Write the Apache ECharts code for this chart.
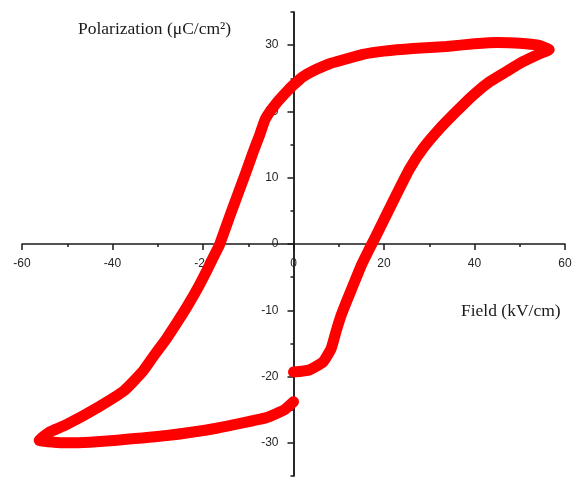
<!DOCTYPE html>
<html>
<head>
<meta charset="utf-8">
<script src="https://cdn.jsdelivr.net/npm/echarts@6/dist/echarts.min.js"></script>
<style>
  html, body { margin: 0; padding: 0; background: #fff; }
  #chart { width: 576px; height: 478px; }
</style>
</head>
<body>
<div id="chart"></div>
<script>
// Hysteresis loop: field (kV/cm) vs polarization (uC/cm^2), traced in measurement order
const field = [
  0, 3.5, 6.5, 8.3, 9.4, 10.5, 12, 13.5, 15, 16.8, 18, 22.7, 25.7, 28.6, 32.3, 36, 39.6, 43.4, 47, 50.7, 54.4, 56.5,
  54, 50, 45, 40, 33.8, 26.4, 20, 15.3, 11.6, 8, 4.3, 2, 0, -1.2,
  -3.6, -6.2, -7.5, -8.9, -10.2, -11.6, -12.9, -14.3, -15.6, -16.4, -17.5, -19.3, -21.2, -23.4, -25.6, -28.1, -30.8, -33.3,
  -37.4, -42.9, -50.3, -54, -56.2,
  -53, -50, -45, -39, -28, -17, -6, -2, 0
];
const polarization = [
  -19.3, -19.0, -17.8, -15.8, -13.2, -10.8, -8.2, -5.7, -3.2, -0.7, 0.9, 7.4, 11.4, 14.4, 17.4, 20, 22.4, 24.5, 26, 27.5, 28.7, 29.3,
  30.0, 30.3, 30.4, 30.2, 29.8, 29.5, 29.1, 28.6, 27.9, 27.2, 26.1, 25.2, 24.0, 23.2,
  21.4, 18.9, 16.4, 13.9, 11.4, 8.8, 6.4, 3.8, 1.3, -0.2, -1.7, -4.2, -6.7, -9.3, -11.7, -14.3, -16.8, -19.2,
  -22.1, -24.5, -27.3, -28.4, -29.6,
  -29.9, -30.0, -29.9, -29.6, -28.9, -27.8, -26.2, -25.0, -23.8
];

const xTicks = [-60, -40, -20, 0, 20, 40, 60];
const yMajorTicks = [-30, -20, -10, 0, 10, 20, 30];

const points = field.map((f, i) => [f, polarization[i]]);

// Plot area; both ranges are symmetric, so the crossing axes sit at the centre
const W = 576, H = 478;
const grid = { left: 22, right: 11, top: 12, bottom: 2 };
const xAxisShift = -(H - grid.top - grid.bottom) / 2;
const yAxisShift = -(W - grid.left - grid.right) / 2;

const chart = echarts.init(document.getElementById('chart'), null, { renderer: 'canvas' });

const axisColor = '#1a1a1a';
const labelFont = { color: '#262626', fontSize: 12, fontFamily: 'Liberation Sans, Arial, sans-serif' };
const axisLineStyle = { color: axisColor, width: 1.5 };
const titleFont = '17.5px "Liberation Serif", "DejaVu Serif", serif';

chart.setOption({
  animation: false,
  backgroundColor: '#ffffff',
  grid: Object.assign({ containLabel: false, outerBoundsMode: 'none' }, grid),
  xAxis: {
    type: 'value',
    position: 'bottom',
    offset: xAxisShift,
    min: xTicks[0],
    max: xTicks[xTicks.length - 1],
    interval: 20,
    axisLine: { show: true, onZero: false, lineStyle: axisLineStyle },
    axisTick: { show: true, length: 6, lineStyle: axisLineStyle },
    minorTick: { show: true, splitNumber: 2, length: 3, lineStyle: axisLineStyle },
    axisLabel: Object.assign({ margin: 14 }, labelFont),
    splitLine: { show: false }
  },
  yAxis: [
    {
      type: 'value',
      position: 'left',
      offset: yAxisShift,
      min: -35,
      max: 35,
      interval: 5,
      axisLine: { show: true, onZero: false, lineStyle: axisLineStyle },
      axisTick: { show: true, length: 6, customValues: yMajorTicks, lineStyle: axisLineStyle },
      axisLabel: Object.assign({ margin: 15, customValues: yMajorTicks }, labelFont),
      splitLine: { show: false }
    },
    {
      type: 'value',
      position: 'left',
      offset: yAxisShift,
      min: -35,
      max: 35,
      interval: 5,
      axisLine: { show: true, onZero: false, lineStyle: axisLineStyle },
      axisTick: { show: true, length: 3, lineStyle: axisLineStyle },
      axisLabel: { show: false },
      splitLine: { show: false }
    }
  ],
  graphic: [
    {
      type: 'text',
      left: 78,
      top: 20,
      style: { text: 'Polarization (μC/cm²)', fill: '#1a1a1a', font: titleFont }
    },
    {
      type: 'text',
      left: 461,
      top: 302,
      style: { text: 'Field (kV/cm)', fill: '#1a1a1a', font: titleFont }
    }
  ],
  series: [
    {
      type: 'line',
      yAxisIndex: 0,
      data: points,
      showSymbol: false,
      symbol: 'none',
      smooth: 0.15,
      lineStyle: { color: '#ff0000', width: 11, cap: 'round', join: 'round' },
      z: 1
    }
  ]
});
</script>
</body>
</html>
